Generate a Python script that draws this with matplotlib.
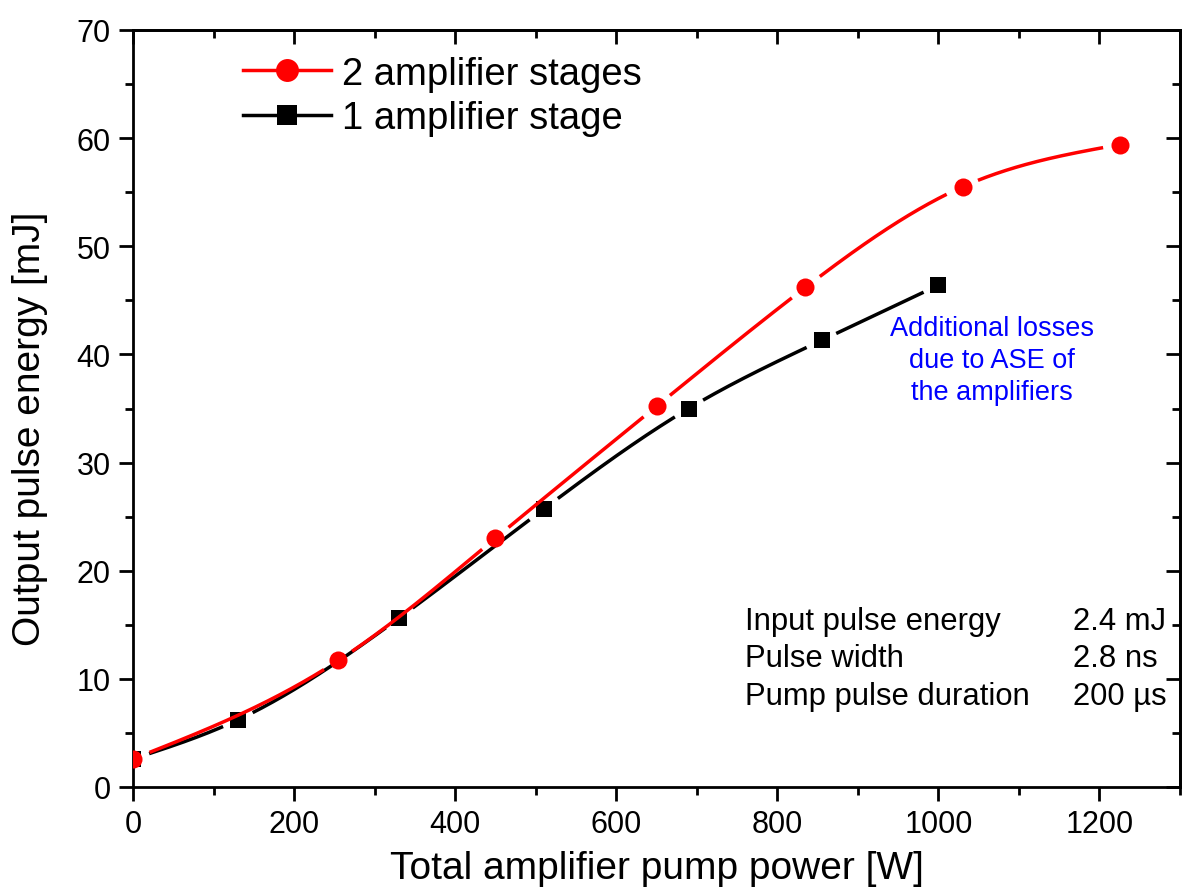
import matplotlib
matplotlib.use("Agg")
import matplotlib.pyplot as plt
import numpy as np
from matplotlib.lines import Line2D
from matplotlib.ticker import MultipleLocator

plt.rcParams["font.family"] = ["Liberation Sans", "DejaVu Sans"]

# data
pump_two = [0, 255, 450, 650, 835, 1030, 1225]
energy_two = [2.6, 11.7, 23.0, 35.2, 46.2, 55.5, 59.4]
pump_one = [0, 130, 330, 510, 690, 855, 1000]
energy_one = [2.6, 6.2, 15.6, 25.7, 35.0, 41.3, 46.4]

series_labels = ["2 amplifier stages", "1 amplifier stage"]
param_names = ["Input pulse energy", "Pulse width", "Pump pulse duration"]
param_values = ["2.4 mJ", "2.8 ns", "200 \u00b5s"]
note = "Additional losses\ndue to ASE of\nthe amplifiers"


def natural_spline(x, y, n=600):
    # smooth connecting curve through the points (like Origin's spline line)
    x = np.asarray(x, float)
    y = np.asarray(y, float)
    h = np.diff(x)
    k = len(x)
    A = np.zeros((k, k))
    b = np.zeros(k)
    A[0, 0] = A[-1, -1] = 1
    for i in range(1, k - 1):
        A[i, i - 1] = h[i - 1]
        A[i, i] = 2 * (h[i - 1] + h[i])
        A[i, i + 1] = h[i]
        b[i] = 6 * ((y[i + 1] - y[i]) / h[i] - (y[i] - y[i - 1]) / h[i - 1])
    m = np.linalg.solve(A, b)
    xs = np.linspace(x[0], x[-1], n)
    i = np.clip(np.searchsorted(x, xs) - 1, 0, k - 2)
    t0 = x[i + 1] - xs
    t1 = xs - x[i]
    ys = ((m[i] * t0**3 + m[i + 1] * t1**3) / (6 * h[i])
          + (y[i] / h[i] - m[i] * h[i] / 6) * t0
          + (y[i + 1] / h[i] - m[i + 1] * h[i] / 6) * t1)
    return xs, ys


def cut_gaps(ax, xs, ys, px, py, gap):
    # break the line around its own symbols
    pts = ax.transData.transform(np.column_stack([xs, ys]))
    mk = ax.transData.transform(np.column_stack([px, py]))
    d = np.hypot(pts[:, None, 0] - mk[None, :, 0], pts[:, None, 1] - mk[None, :, 1]).min(axis=1)
    ys = ys.copy()
    ys[d < gap] = np.nan
    return ys


fig = plt.figure(figsize=(11.82, 8.95), dpi=100)
ax = fig.add_axes([133 / 1182, 1 - 788 / 895, 1047 / 1182, 757 / 895])
ax.set_xlim(0, 1300)
ax.set_ylim(0, 70)

lw = 2.5
for px, py, color, marker, ms, z in [
    (pump_one, energy_one, "black", "s", 11.5, 2),
    (pump_two, energy_two, "red", "o", 13, 4),
]:
    xs, ys = natural_spline(px, py)
    ys = cut_gaps(ax, xs, ys, px, py, 16)
    ax.plot(xs, ys, color=color, lw=lw, zorder=z, solid_capstyle="butt")
    ax.plot(px, py, ls="none", marker=marker, ms=ms, color=color, mew=0, zorder=z + 1)

handles = [
    Line2D([], [], color="red", lw=lw, marker="o", ms=13, mew=0),
    Line2D([], [], color="black", lw=lw, marker="s", ms=11.5, mew=0),
]
ax.legend(handles, series_labels, loc="upper left", bbox_to_anchor=(0.105, 0.966),
          frameon=False, fontsize=27.5, handlelength=2.3, handletextpad=0.3,
          labelspacing=0.22, borderpad=0, borderaxespad=0, markerscale=1.27)

ax.text(1067, 39.5, note, ha="center", va="center", color="#0000ff",
        fontsize=19.5, linespacing=1.3)

for row, (name, value) in enumerate(zip(param_names, param_values)):
    yb = 0.2087 - row * 0.0495
    ax.text(0.5845, yb, name, transform=ax.transAxes, fontsize=22.3, va="baseline")
    ax.text(0.898, yb, value, transform=ax.transAxes, fontsize=22.3, va="baseline")

ax.set_xlabel("Total amplifier pump power [W]", fontsize=28)
ax.set_ylabel("Output pulse energy [mJ]", fontsize=28)
ax.xaxis.set_label_coords(0.5, -0.083)
ax.yaxis.set_label_coords(-0.081, 0.475)

ax.xaxis.set_major_locator(MultipleLocator(200))
ax.xaxis.set_minor_locator(MultipleLocator(100))
ax.yaxis.set_major_locator(MultipleLocator(10))
ax.yaxis.set_minor_locator(MultipleLocator(5))
ax.tick_params(which="both", direction="out", width=2, labelsize=22, pad=6)
ax.tick_params(which="major", length=10)
ax.tick_params(which="minor", length=5.5)
for s in ax.spines.values():
    s.set_linewidth(2)

top = ax.secondary_xaxis("top")
right = ax.secondary_yaxis("right")
top.xaxis.set_major_locator(MultipleLocator(200))
top.xaxis.set_minor_locator(MultipleLocator(100))
right.yaxis.set_major_locator(MultipleLocator(10))
right.yaxis.set_minor_locator(MultipleLocator(5))
for sec in (top, right):
    sec.tick_params(which="both", direction="in", width=2, labeltop=False, labelright=False)
    sec.tick_params(which="major", length=10)
    sec.tick_params(which="minor", length=5.5)
    for s in sec.spines.values():
        s.set_linewidth(2)

fig.savefig("out.png", dpi=100)
